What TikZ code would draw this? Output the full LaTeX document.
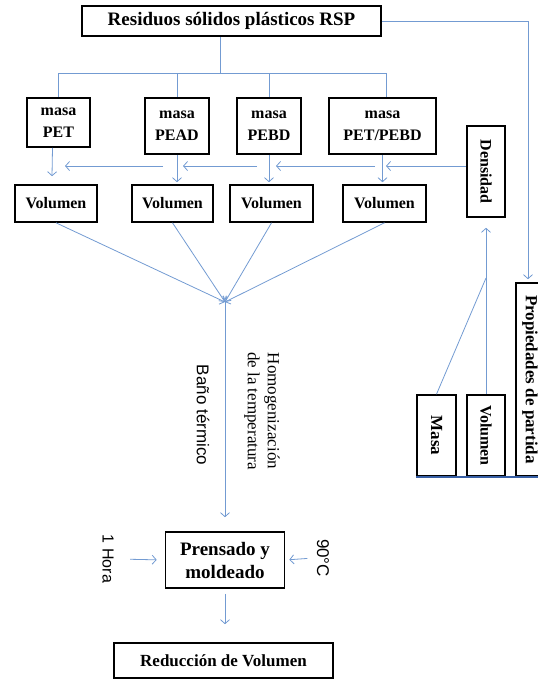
\documentclass[tikz,border=0pt]{standalone}
\usepackage{fontspec}
\usetikzlibrary{arrows.meta}
\setmainfont{Liberation Serif}
\setsansfont{Liberation Sans}
\definecolor{azul}{RGB}{115,155,210}
\definecolor{azuloscuro}{RGB}{55,95,165}
\begin{document}
\begin{tikzpicture}[x=1pt,y=-1pt,>={Straight Barb[length=4pt,width=9pt]}]
    \tikzstyle{flecha}=[->,draw=azul,line width=0.8pt]
    \tikzstyle{linea}=[draw=azul,line width=0.8pt]
    \tikzstyle{caja}=[draw,line width=1.6pt,inner sep=0pt,align=center,font=\bfseries\fontsize{16}{22}\selectfont]
    \tikzstyle{cajav}=[caja,rotate=-90]
    \tikzstyle{nota}=[rotate=-90,align=center,font=\sffamily\fontsize{17}{20}\selectfont]
    \useasboundingbox (0,0) rectangle (538,681);
    % origen
    \node[caja,minimum width=299,minimum height=30,font=\bfseries\fontsize{19}{22}\selectfont] (rsp) at (231.5,21) {Residuos sólidos plásticos RSP};
    % masas
    \node[caja,minimum width=63,minimum height=49] (mpet) at (58.5,122.5) {masa\\PET};
    \node[caja,minimum width=64,minimum height=56] (mpead) at (177,126) {masa\\PEAD};
    \node[caja,minimum width=64,minimum height=56] (mpebd) at (269,126) {masa\\PEBD};
    \node[caja,minimum width=107,minimum height=56] (mmix) at (382.5,126) {masa\\PET/PEBD};
    % volumenes
    \node[caja,minimum width=82,minimum height=37] (v1) at (56,203.5) {Volumen};
    \node[caja,minimum width=81,minimum height=37] (v2) at (172.5,203.5) {Volumen};
    \node[caja,minimum width=83,minimum height=37] (v3) at (271.5,203.5) {Volumen};
    \node[caja,minimum width=83,minimum height=37] (v4) at (384.5,203.5) {Volumen};
    \node[cajav,minimum width=91,minimum height=38] (dens) at (486,171.5) {Densidad};
    % propiedades de partida
    \node[cajav,minimum width=81,minimum height=39,font=\bfseries\fontsize{17}{20}\selectfont] (mr) at (436.5,435.5) {Masa};
    \node[cajav,minimum width=81,minimum height=38] (vr) at (486,435.5) {Volumen};
    \node[cajav,minimum width=193,minimum height=28,font=\bfseries\fontsize{17}{20}\selectfont] (prop) at (530,379.5) {Propiedades de partida};
    % proceso
    \node[caja,minimum width=119,minimum height=56,font=\bfseries\fontsize{19}{23}\selectfont] (prensa) at (225,560) {Prensado y\\moldeado};
    \node[caja,minimum width=219,minimum height=35,font=\bfseries\fontsize{17}{20}\selectfont] (reduc) at (223.5,660.5) {Reducción de Volumen};
    \node[nota] (bano) at (203,415) {Baño térmico};
    \node[nota,font=\fontsize{17}{20}\selectfont] (homog) at (262,411) {Homogenización\\de la temperatura};
    \node[nota,font=\sffamily\fontsize{16}{19}\selectfont] (hora) at (108,559) {1 Hora};
    \node[nota] (temp) at (323,558) {90°C};
    % conexiones
    \draw[linea] ([xshift=-11]rsp.south) -- ([xshift=-11]rsp.south |- 0,73);
    \draw[linea] (mpet.north |- 0,73) -- ([xshift=4]mmix.north |- 0,73);
    \foreach \m in {mpet,mpead,mpebd} \draw[linea] (\m.north) -- (\m.north |- 0,73);
    \draw[linea] ([xshift=4]mmix.north) -- ([xshift=4]mmix.north |- 0,73);
    \draw[flecha] ([xshift=-6]mpet.south) -- ([xshift=-4,yshift=8]v1.north);
    \foreach \m/\v in {mpead/v2,mpebd/v3,mmix/v4} \draw[flecha,shorten >=2pt] (\m.south) -- (\m.south |- \v.north);
    \draw[flecha] (dens.south |- 0,166) -- (386,166);
    \foreach \a/\b in {375/276,257/183,163/65} \draw[flecha] (\a,166) -- (\b,166);
    \coordinate (mezcla) at (225,302);
    \foreach \v in {v1,v2,v3,v4} \draw[flecha] (\v.south) -- (mezcla);
    \draw[flecha,shorten >=14pt] (mezcla) -- (prensa.north);
    \draw[flecha,shorten <=5pt,shorten >=18pt] (prensa.south) -- (prensa.south |- reduc.north);
    \draw[flecha,shorten <=13pt,shorten >=8pt] (hora.north) -- (prensa.west);
    \draw[flecha,shorten <=6pt,shorten >=4pt] (temp.south) -- (prensa.east);
    \coordinate (union) at (486,278);
    \draw[linea] (mr.west) -- (union);
    \draw[flecha,shorten >=10pt] (vr.west) -- (dens.east);
    \draw[flecha,shorten >=3pt] (rsp.east) -| ([xshift=-2]prop.west);
    \draw[azuloscuro,line width=1.5pt] (mr.south east) -- (prop.north east);
\end{tikzpicture}
\end{document}
